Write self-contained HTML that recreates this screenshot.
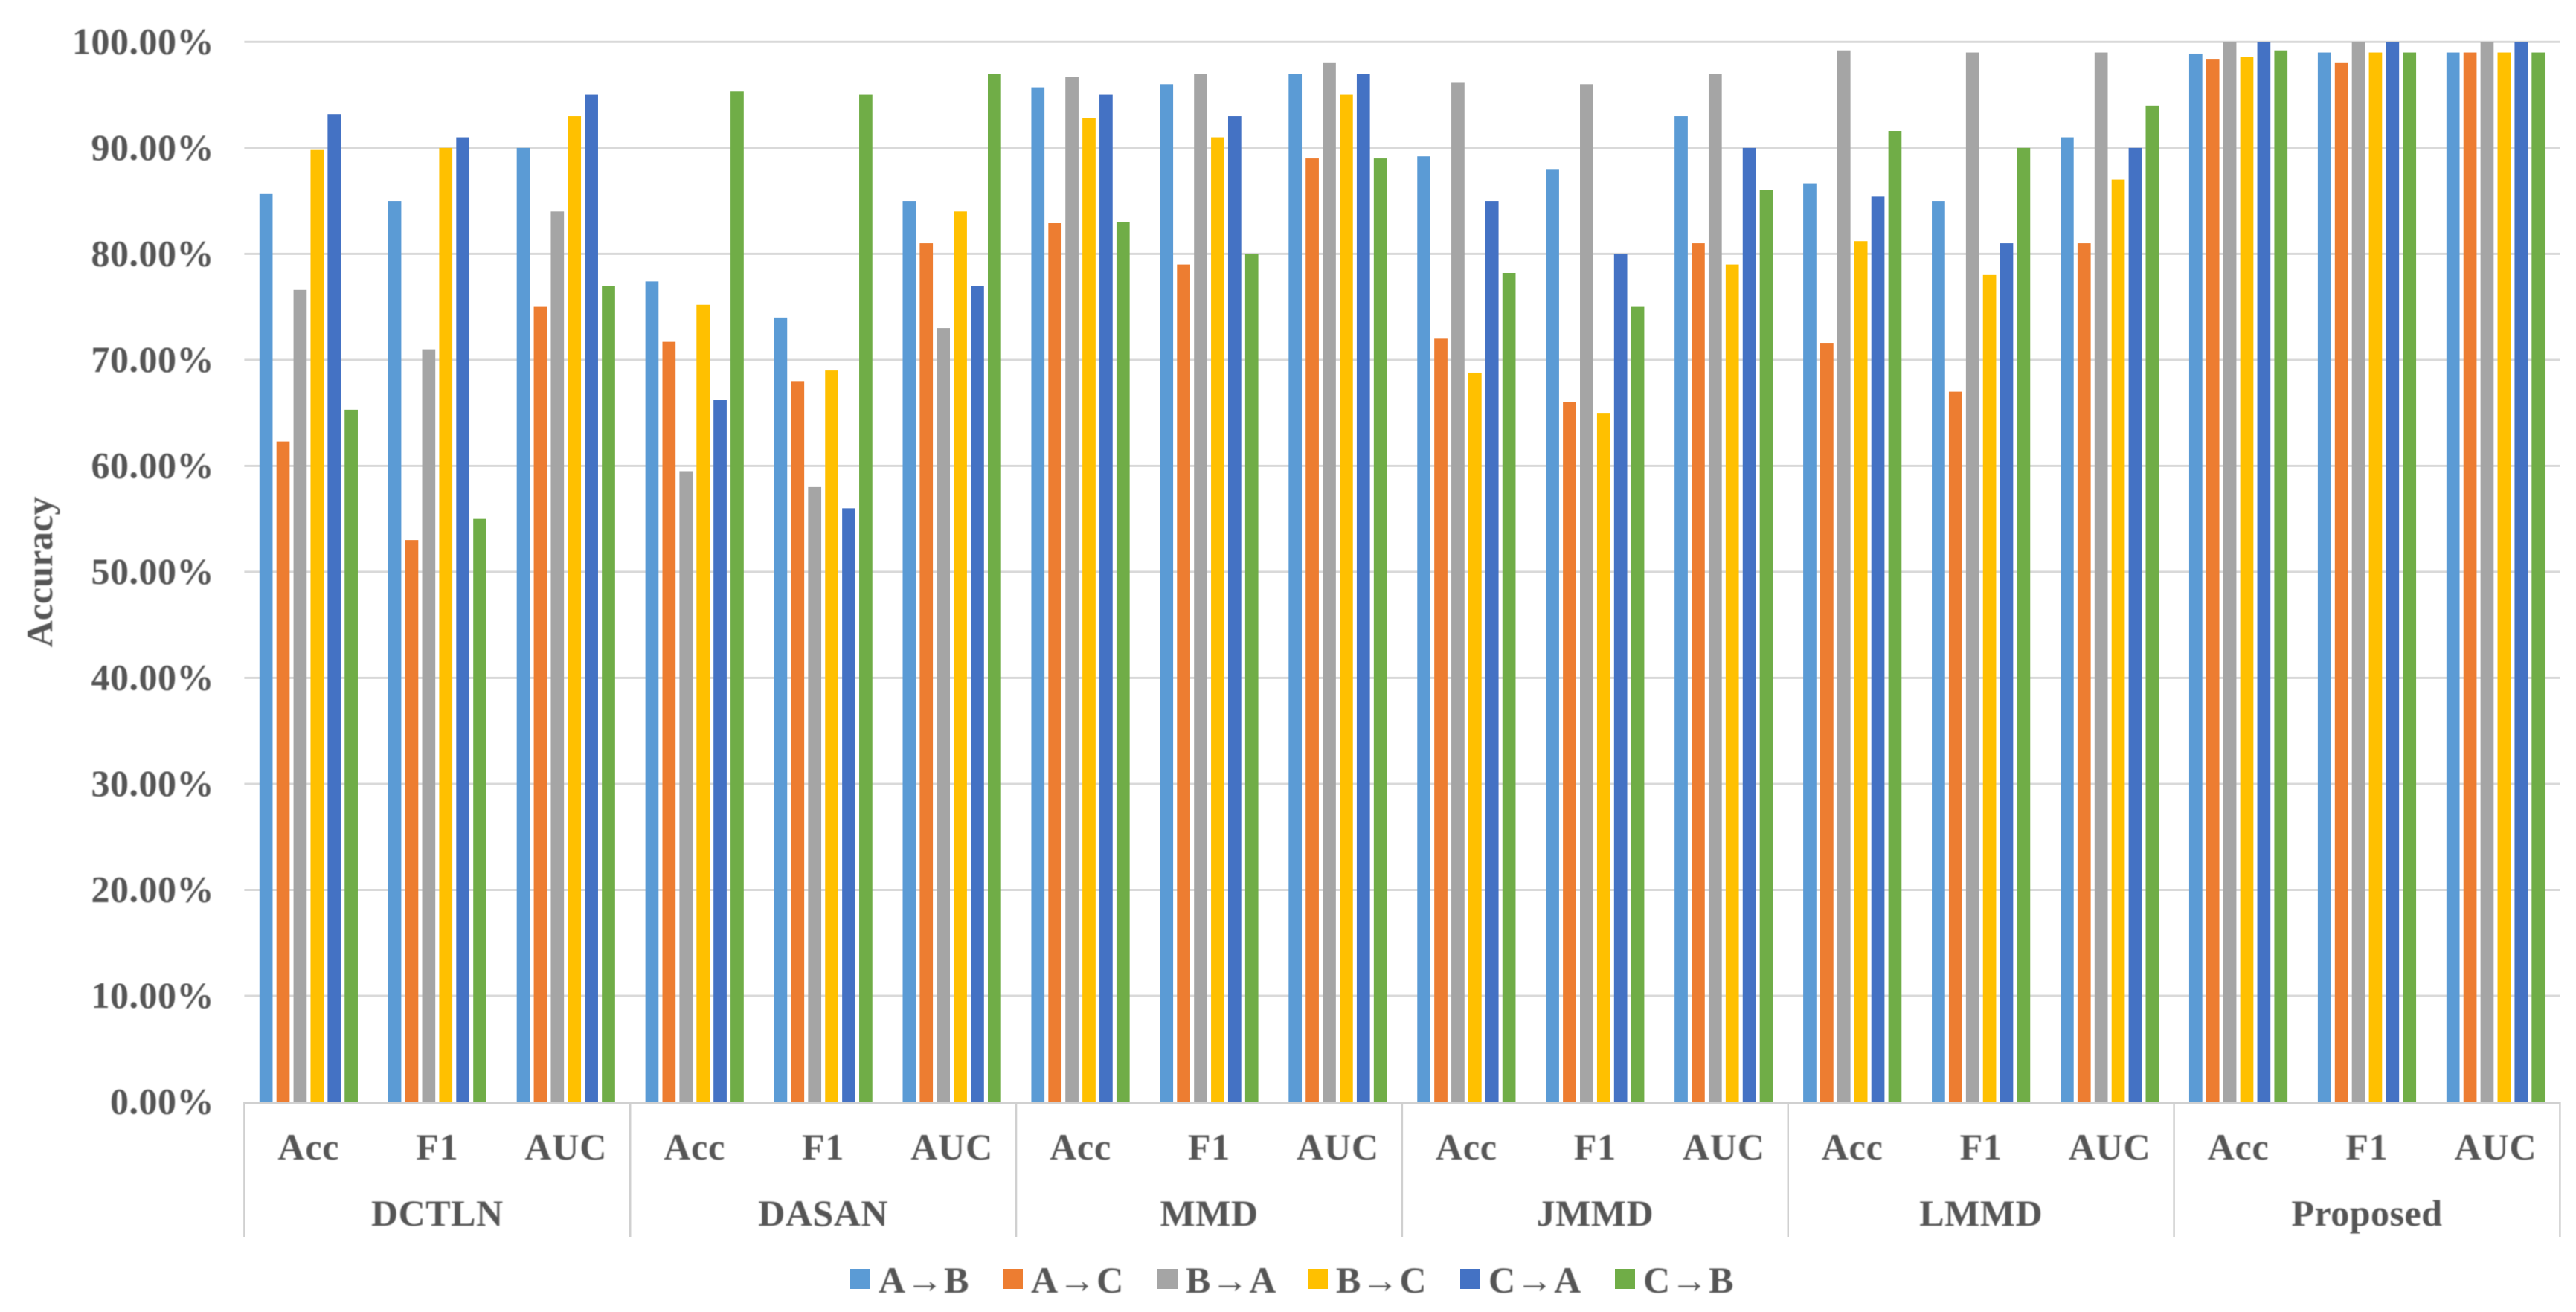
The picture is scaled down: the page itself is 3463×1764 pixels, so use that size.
<!DOCTYPE html>
<html lang="en">
<head>
<meta charset="utf-8">
<title>Accuracy chart</title>
<style>
html,body{margin:0;padding:0;background:#fff;}
body{width:3463px;height:1764px;overflow:hidden;}
svg{display:block;}
text{font-family:"Liberation Serif","Times New Roman",serif;font-weight:bold;fill:#555555;font-size:50px;filter:blur(0.7px);}
</style>
</head>
<body>
<svg id="chart" xmlns="http://www.w3.org/2000/svg" width="3463" height="1764" viewBox="0 0 3463 1764"></svg>
<script>
const groups = ['DCTLN', 'DASAN', 'MMD', 'JMMD', 'LMMD', 'Proposed'];
const metrics = ['Acc', 'F1', 'AUC'];
const seriesNames = ['A→B', 'A→C', 'B→A', 'B→C', 'C→A', 'C→B'];
const tickValues = [0, 10, 20, 30, 40, 50, 60, 70, 80, 90, 100];
const tickLabels = ['0.00%', '10.00%', '20.00%', '30.00%', '40.00%', '50.00%', '60.00%', '70.00%', '80.00%', '90.00%', '100.00%'];
const seriesAB = [85.65, 85, 90, 77.4, 74, 85, 95.7, 96, 97, 89.2, 88, 93, 86.65, 85, 91, 98.9, 99, 99];
const seriesAC = [62.3, 53, 75, 71.7, 68, 81, 82.9, 79, 89, 72, 66, 81, 71.6, 67, 81, 98.4, 98, 99];
const seriesBA = [76.6, 71, 84, 59.5, 58, 73, 96.7, 97, 98, 96.2, 96, 97, 99.2, 99, 99, 100, 100, 100];
const seriesBC = [89.8, 90, 93, 75.2, 69, 84, 92.8, 91, 95, 68.8, 65, 79, 81.2, 78, 87, 98.55, 99, 99];
const seriesCA = [93.2, 91, 95, 66.2, 56, 77, 95, 93, 97, 85, 80, 90, 85.4, 81, 90, 100, 100, 100];
const seriesCB = [65.3, 55, 77, 95.3, 95, 97, 83, 80, 89, 78.2, 75, 86, 91.6, 90, 94, 99.2, 99, 99];
const allSeries = [seriesAB, seriesAC, seriesBA, seriesBC, seriesCA, seriesCB];
const colors = ['#5B9BD5', '#ED7D31', '#A5A5A5', '#FFC000', '#4472C4', '#70AD47'];

const NS = 'http://www.w3.org/2000/svg';
const svg = document.getElementById('chart');
const plotL = 328.4, plotR = 3441.4, plotT = 56.3, plotB = 1481.5;
const catCount = groups.length * metrics.length;
const catW = (plotR - plotL) / catCount;
const barW = 17.7, barStep = 22.9;
const yScale = function (v) { return plotB - (v / 100) * (plotB - plotT); };
const catX = function (i) { return plotL + i * catW; };
const barX = function (c, s) {
  const total = barStep * (allSeries.length - 1) + barW;
  return catX(c) + (catW - total) / 2 + s * barStep;
};
const slug = function (t) { return t.toLowerCase().replace('→', '-to-'); };

function node(tag, attrs, parent) {
  const el = document.createElementNS(NS, tag);
  for (const k in attrs) el.setAttribute(k, attrs[k]);
  (parent || svg).appendChild(el);
  return el;
}

// gridlines
const gridG = node('g', {});


tickValues.forEach(function (v, i) {
  if (v === 0) return;
  const y = yScale(v);
  const line = node('line', { x1: plotL, x2: plotR, y1: y, y2: y, stroke: '#D9D9D9', 'stroke-width': 3 }, gridG);
  
  
});

// y tick labels
tickValues.forEach(function (v, i) {
  const t = node('text', { x: 288, y: yScale(v) + 16, 'text-anchor': 'end', 'letter-spacing': 0.5 });
  t.textContent = tickLabels[i];
  
  
});

// y axis title
const yTitle = node('text', { transform: 'translate(70,769) rotate(-90)', 'text-anchor': 'middle' });
yTitle.textContent = 'Accuracy';



// bars
allSeries.forEach(function (vals, s) {
  const g = node('g', {});
  
  
  vals.forEach(function (v, c) {
    const y = yScale(v);
    const r = node('rect', { x: barX(c, s), y: y, width: barW, height: plotB - y, fill: colors[s] }, g);
    
    
  });
});

// x axis line and dividers
const axisLine = node('line', { x1: plotL, x2: plotR, y1: plotB + 1, y2: plotB + 1, stroke: '#D0D0D0', 'stroke-width': 3 });


for (let i = 0; i <= groups.length; i++) {
  const x = catX(i * metrics.length);
  const d = node('line', { x1: x, x2: x, y1: plotB, y2: 1663, stroke: '#D0D0D0', 'stroke-width': 2.5 });
  
  
}

// category labels
for (let c = 0; c < catCount; c++) {
  const t = node('text', { x: catX(c) + catW / 2, y: 1559, 'text-anchor': 'middle', 'letter-spacing': 0.8 });
  t.textContent = metrics[c % metrics.length];
  
  
}
groups.forEach(function (name, i) {
  const t = node('text', { x: catX(i * metrics.length) + catW * metrics.length / 2, y: 1648, 'text-anchor': 'middle', 'letter-spacing': 0.5 });
  t.textContent = name;
  
  
});

// legend
const legendStep = [0, 205, 413, 615, 820, 1028];
seriesNames.forEach(function (name, s) {
  const x = 1143 + legendStep[s];
  const g = node('g', {});
  
  
  const sw = node('rect', { x: x, y: 1706, width: 27, height: 27, fill: colors[s] }, g);
  
  
  const t = node('text', { x: x + 38, y: 1738, 'letter-spacing': 1 }, g);
  t.textContent = name;
  
  
});
</script>
</body>
</html>
